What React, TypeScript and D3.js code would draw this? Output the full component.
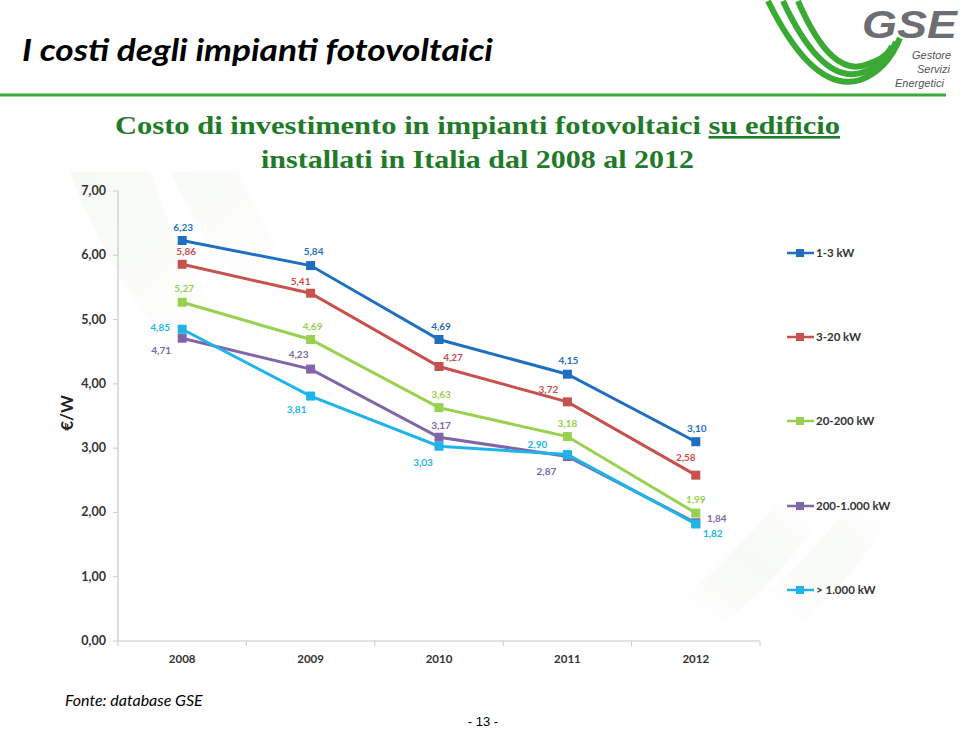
import React from "react";
import * as d3 from "d3";

const years = ["2008", "2009", "2010", "2011", "2012"];
const seriesNames = ["1-3 kW", "3-20 kW", "20-200 kW", "200-1.000 kW", "> 1.000 kW"];
const s1_3 = [6.23, 5.84, 4.69, 4.15, 3.10];
const s3_20 = [5.86, 5.41, 4.27, 3.72, 2.58];
const s20_200 = [5.27, 4.69, 3.63, 3.18, 1.99];
const s200_1000 = [4.71, 4.23, 3.17, 2.87, 1.84];
const s1000 = [4.85, 3.81, 3.03, 2.90, 1.82];
const yTicks = [0, 1, 2, 3, 4, 5, 6, 7];
const colors = ["#1f6fc0", "#c8504d", "#97d14f", "#8066a8", "#1eb4ea"];

// label offsets [dx, dy] relative to the point for each series/year
const labelOffsets: number[][][] = [
  [[1, -13], [3, -14], [2, -13], [1, -13], [1, -13]],
  [[4, -12], [-10, -11], [14, -9], [-19, -12], [-10, -17]],
  [[2, -13], [2, -13], [2, -13], [0, -13], [0, -13]],
  [[-21, 13], [-12, -14], [2, -11], [-21, 15], [21, -4]],
  [[-22, -1], [-14, 14], [-16, 17], [-30, -10], [17, 10]],
];

const allSeries = [s1_3, s3_20, s20_200, s200_1000, s1000];

const fmt = (v: number) => v.toFixed(2).replace(".", ",");

export default function App() {
  const x0 = 118, x1 = 760, yTop = 191, yBot = 641;
  const x = d3.scaleBand<string>().domain(years).range([x0, x1]);
  const y = d3.scaleLinear().domain([0, 7]).range([yBot, yTop]);
  const line = d3
    .line<number>()
    .x((_, i) => (x(years[i]) as number) + x.bandwidth() / 2)
    .y((d) => y(d));
  const legendY = [253, 337, 421, 506, 590];
  const labelFont = "Lato, 'Open Sans', sans-serif";

  return (
    <svg
      width={960}
      height={730}
      style={{ position: "absolute", left: 0, top: 0, background: "#fff" }}
    >
      <defs>
        <linearGradient id="swoosh" x1="0" y1="0" x2="1" y2="1">
          <stop offset="0" stopColor="#eef5ea" stopOpacity={0.9} />
          <stop offset="1" stopColor="#ffffff" stopOpacity={0} />
        </linearGradient>
        <linearGradient id="swoosh2" x1="1" y1="0" x2="0" y2="1">
          <stop offset="0" stopColor="#ffffff" stopOpacity={0} />
          <stop offset="0.5" stopColor="#f1f6ee" stopOpacity={0.9} />
          <stop offset="1" stopColor="#ffffff" stopOpacity={0} />
        </linearGradient>
      </defs>
      {/* faint background swooshes */}
      <path d="M70,172 L150,172 Q200,330 330,430 L260,440 Q130,330 70,172 Z" fill="url(#swoosh)" opacity={0.6} />
      <path d="M170,172 L240,172 Q290,300 400,380 L350,390 Q230,300 170,172 Z" fill="url(#swoosh)" opacity={0.4} />
      <path d="M640,630 Q740,560 800,470 L850,470 Q790,580 700,640 Z" fill="url(#swoosh2)" opacity={0.7} />
      <path d="M720,630 Q820,560 870,470 L920,470 Q860,580 780,640 Z" fill="url(#swoosh2)" opacity={0.6} />

      {/* header */}
      <text x={22} y={61} fontFamily="Lato, 'Open Sans', sans-serif" fontStyle="italic" fontWeight="bold" fontSize={31} fill="#000" textLength={471} lengthAdjust="spacingAndGlyphs">
        I costi degli impianti fotovoltaici
      </text>
      <line x1={0} x2={946} y1={95} y2={95} stroke="#3aaa35" strokeWidth={3} />

      {/* logo */}
      {[0, 1, 2].map((i) => (
        <path
          key={i}
          d={`M${768 + i * 15},1 Q${814 + i * 9},${94 - i * 7} ${860 + i * 4},${80 - i * 8} Q${887},${70 - i * 6} ${900 - i * 4},${38 + i * 4}`}
          fill="none"
          stroke="#3aaa35"
          strokeWidth={6}
        />
      ))}
      <text x={862} y={38} fontFamily="'Liberation Sans', Arial, sans-serif" fontStyle="italic" fontWeight="bold" fontSize={39} fill="#6d6e71" textLength={95} lengthAdjust="spacingAndGlyphs">
        GSE
      </text>
      <text x={912} y={59} fontFamily="'Liberation Sans', Arial, sans-serif" fontStyle="italic" fontSize={11} fill="#555">Gestore</text>
      <text x={917} y={73} fontFamily="'Liberation Sans', Arial, sans-serif" fontStyle="italic" fontSize={11} fill="#555">Servizi</text>
      <text x={895} y={87} fontFamily="'Liberation Sans', Arial, sans-serif" fontStyle="italic" fontSize={11} fill="#555">Energetici</text>

      {/* subtitle */}
      <text x={115} y={134} fontFamily="'Liberation Serif', 'Times New Roman', serif" fontWeight="bold" fontSize={26} fill="#1f7a2a" textLength={725} lengthAdjust="spacingAndGlyphs">
        Costo di investimento in impianti fotovoltaici <tspan textDecoration="underline">su edificio</tspan>
      </text>
      <text x={261} y={168} fontFamily="'Liberation Serif', 'Times New Roman', serif" fontWeight="bold" fontSize={26} fill="#1f7a2a" textLength={433} lengthAdjust="spacingAndGlyphs">
        installati in Italia dal 2008 al 2012
      </text>

      {/* axes */}
      <line x1={x0} x2={x0} y1={yTop} y2={yBot} stroke="#c8c8c8" strokeWidth={1.2} />
      <line x1={x0} x2={x1} y1={yBot} y2={yBot} stroke="#c8c8c8" strokeWidth={1.2} />
      {yTicks.map((t) => (
        <g key={t}>
          <line x1={x0 - 5} x2={x0} y1={y(t)} y2={y(t)} stroke="#c8c8c8" />
          <text x={106} y={y(t) + 4} textAnchor="end" fontFamily={labelFont} fontWeight="bold" fontSize={12.5} fill="#333">
            {fmt(t)}
          </text>
        </g>
      ))}
      {[...years.map((yr) => x(yr) as number), x1].map((tx, i) => (
        <line key={i} x1={tx} x2={tx} y1={yBot} y2={yBot + 5} stroke="#c8c8c8" />
      ))}
      {years.map((yr) => (
        <text key={yr} x={(x(yr) as number) + x.bandwidth() / 2} y={663} textAnchor="middle" fontFamily={labelFont} fontWeight="bold" fontSize={11.5} fill="#333">
          {yr}
        </text>
      ))}
      <text transform="translate(73,413) rotate(-90)" textAnchor="middle" fontFamily={labelFont} fontWeight="bold" fontSize={17} fill="#222">
        €/W
      </text>

      {/* series */}
      {allSeries.map((s, si) => (
        <g key={si}>
          <path d={line(s) as string} fill="none" stroke={colors[si]} strokeWidth={3} />
          {s.map((v, i) => {
            const cx = (x(years[i]) as number) + x.bandwidth() / 2;
            const cy = y(v);
            const [dx, dy] = labelOffsets[si][i];
            return (
              <g key={i}>
                <rect x={cx - 4.5} y={cy - 4.5} width={9} height={9} fill={colors[si]} />
                <text x={cx + dx} y={cy + dy + 3} textAnchor="middle" fontFamily={labelFont} fontWeight="bold" fontSize={10} fill={colors[si]}>
                  {fmt(v)}
                </text>
              </g>
            );
          })}
        </g>
      ))}

      {/* legend */}
      {seriesNames.map((n, i) => (
        <g key={n}>
          <line x1={787} x2={814} y1={legendY[i]} y2={legendY[i]} stroke={colors[i]} strokeWidth={2.5} />
          <rect x={796} y={legendY[i] - 4} width={8} height={8} fill={colors[i]} />
          <text x={816} y={legendY[i] + 4} fontFamily={labelFont} fontWeight="bold" fontSize={11.5} fill="#333">
            {n}
          </text>
        </g>
      ))}

      {/* footer */}
      <text x={65} y={706} fontFamily="Lato, 'Open Sans', sans-serif" fontStyle="italic" fontSize={16} fill="#000">
        Fonte: database GSE
      </text>
      <text x={483} y={726} textAnchor="middle" fontFamily="'Liberation Sans', Arial, sans-serif" fontSize={13} fill="#000">
        - 13 -
      </text>
    </svg>
  );
}
